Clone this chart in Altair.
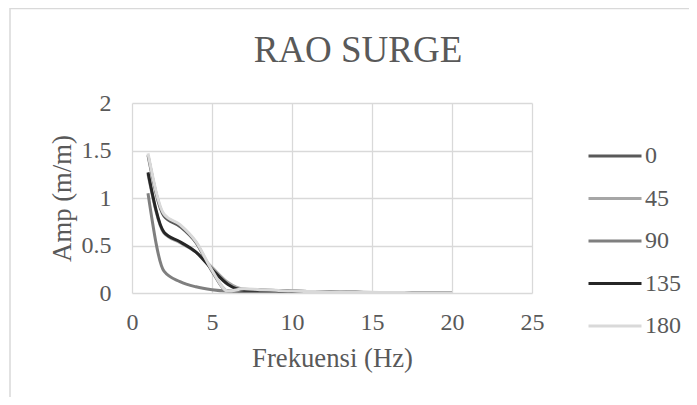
import altair as alt
import pandas as pd

# ---- data ----
freq = [1, 2, 3, 4, 5, 6, 7, 8, 9, 10, 11, 12, 13, 14, 15, 16, 17, 18, 19, 20]
s0 = [1.45, 0.81, 0.70, 0.53, 0.23, 0.02, 0.04, 0.032, 0.026, 0.019, 0.015, 0.012, 0.009, 0.007, 0.006, 0.005, 0.004, 0.003, 0.002, 0.002]
s45 = [1.25, 0.63, 0.53, 0.43, 0.27, 0.11, 0.04, 0.032, 0.026, 0.02, 0.016, 0.012, 0.01, 0.008, 0.006, 0.005, 0.004, 0.003, 0.002, 0.002]
s90 = [1.05, 0.23, 0.12, 0.065, 0.035, 0.02, 0.016, 0.013, 0.011, 0.009, 0.008, 0.007, 0.006, 0.005, 0.004, 0.003, 0.003, 0.002, 0.002, 0.001]
s135 = [1.27, 0.64, 0.54, 0.43, 0.25, 0.09, 0.03, 0.03, 0.025, 0.019, 0.015, 0.012, 0.009, 0.007, 0.006, 0.005, 0.004, 0.003, 0.002, 0.002]
s180 = [1.47, 0.83, 0.72, 0.54, 0.24, 0.02, 0.045, 0.035, 0.028, 0.02, 0.016, 0.013, 0.01, 0.008, 0.007, 0.005, 0.004, 0.003, 0.002, 0.002]

series_names = ["0", "45", "90", "135", "180"]
series_values = [s0, s45, s90, s135, s180]
series_colors = ["#595959", "#a6a6a6", "#7f7f7f", "#262626", "#d9d9d9"]

x_ticks = [0, 5, 10, 15, 20, 25]
y_ticks = [0, 0.5, 1, 1.5, 2]
chart_title = "RAO SURGE"

rows = []
for name, vals in zip(series_names, series_values):
    for f, v in zip(freq, vals):
        rows.append({"freq": f, "amp": v, "series": name})
df = pd.DataFrame(rows)

FONT = "Liberation Serif"
TXT = "#595959"
GRID = "#d9d9d9"

color = alt.Color(
    "series:N",
    scale=alt.Scale(domain=series_names, range=series_colors),
    legend=alt.Legend(
        title=None,
        orient="none",
        legendX=455,
        legendY=25,
        symbolType="stroke",
        symbolSize=2809,
        symbolStrokeWidth=3,
        labelFont=FONT,
        labelFontSize=24,
        labelColor=TXT,
        labelOffset=2,
        rowPadding=2.5,
    ),
)

x = alt.X(
    "freq:Q",
    scale=alt.Scale(domain=[0, 25], nice=False),
    axis=alt.Axis(values=x_ticks, title="Frekuensi (Hz)", labelPadding=17, titlePadding=11,
                  labelFlush=False, labelFont=FONT, titleFont=FONT),
)
y = alt.Y(
    "amp:Q",
    scale=alt.Scale(domain=[0, 2], nice=False),
    axis=alt.Axis(values=y_ticks, format="~g", title="Amp (m/m)", labelPadding=21, titlePadding=5,
                  labelFlush=False, labelFont=FONT, titleFont=FONT),
)

frame = alt.Chart(pd.DataFrame({"a": [0]})).mark_rect(
    fillOpacity=0, stroke=GRID, strokeWidth=1.5
).encode(
    x=alt.value(-122), x2=alt.value(700), y=alt.value(-94.5), y2=alt.value(400)
)

title_mark = alt.Chart(pd.DataFrame({"t": [chart_title]})).mark_text(
    font=FONT, fontSize=37, color=TXT, align="center", baseline="alphabetic"
).encode(x=alt.value(226), y=alt.value(-41), text="t:N")

layers = [frame, title_mark]
for name in series_names:
    layers.append(
        alt.Chart(df)
        .transform_filter(alt.datum.series == name)
        .mark_line(strokeWidth=3, interpolate="monotone", clip=True)
        .encode(x=x, y=y, color=color)
    )

chart = (
    alt.layer(*layers)
    .properties(
        width=400,
        height=190,
        autosize=alt.AutoSizeParams(type="none"),
        padding={"left": 124, "top": 95, "right": 157, "bottom": 104},
    )
    .configure(font=FONT)
    .configure_view(stroke=None)
    .configure_axis(
        grid=True,
        gridColor=GRID,
        gridWidth=1.3,
        domain=False,
        ticks=False,
        labelFont=FONT,
        labelFontSize=24,
        labelColor=TXT,
        titleFont=FONT,
        titleFontSize=26.7,
        titleFontWeight="normal",
        titleColor=TXT,
    )
    .configure_legend(labelFont=FONT)
)

chart.save("out.html", embed_options={"renderer": "svg", "actions": False})
